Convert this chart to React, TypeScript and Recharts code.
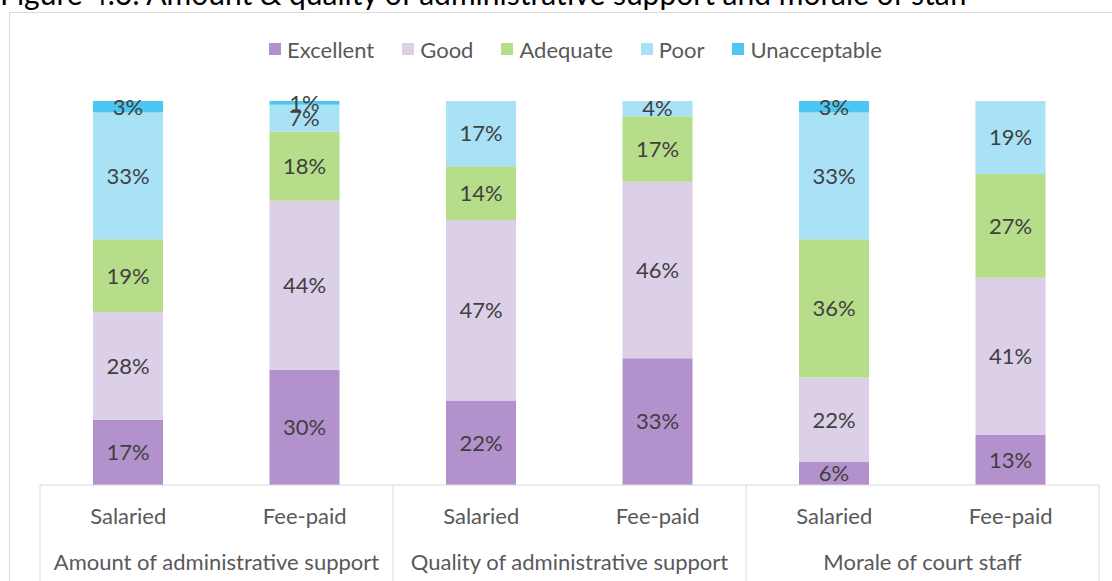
import { ComposedChart, Bar, XAxis, YAxis, Legend, LabelList } from "recharts";

const groups = [
  "Amount of administrative support",
  "Amount of administrative support",
  "Quality of administrative support",
  "Quality of administrative support",
  "Morale of court staff",
  "Morale of court staff",
];
const types = ["Salaried", "Fee-paid", "Salaried", "Fee-paid", "Salaried", "Fee-paid"];

const excellent = [17, 30, 22, 33, 6, 13];
const good = [28, 44, 47, 46, 22, 41];
const adequate = [19, 18, 14, 17, 36, 27];
const poor = [33, 7, 17, 4, 33, 19];
const unacceptable = [3, 1, 0, 0, 3, 0];

const series = [
  { key: "excellent", name: "Excellent", color: "#b391cc" },
  { key: "good", name: "Good", color: "#dccfe8" },
  { key: "adequate", name: "Adequate", color: "#b6dd89" },
  { key: "poor", name: "Poor", color: "#a9e2f7" },
  { key: "unacceptable", name: "Unacceptable", color: "#4dc7f2" },
];

const data = types.map((t, i) => ({
  type: t,
  group: groups[i],
  excellent: excellent[i],
  good: good[i],
  adequate: adequate[i],
  poor: poor[i],
  unacceptable: unacceptable[i],
}));

const W = 1112;
const H = 581;
const M = { top: 34, right: 13, bottom: 0, left: 40 };
const BAND = (W - M.left - M.right) / data.length;
const FONT = "Lato, 'DejaVu Sans', sans-serif";
const TEXT = "#595959";
const FS = 22;

function TypeTick(props: any) {
  const { x, y, payload, index } = props;
  const i = payload?.index ?? index;
  return (
    <g>
      {i % 2 === 0 && <line x1={x - BAND / 2} x2={x - BAND / 2} y1={y} y2={y + 200} stroke="#d9d9d9" />}
      {i === data.length - 1 && <line x1={x + BAND / 2} x2={x + BAND / 2} y1={y} y2={y + 200} stroke="#d9d9d9" />}
      <text x={x} y={y + 39} textAnchor="middle" fill={TEXT} fontSize={FS} fontFamily={FONT}>
        {payload.value}
      </text>
    </g>
  );
}

function GroupTick(props: any) {
  const { x, y, payload, index } = props;
  const i = payload?.index ?? index;
  if (i % 2 !== 0) return null;
  return (
    <text x={x + BAND / 2} y={y + 39} textAnchor="middle" fill={TEXT} fontSize={FS} fontFamily={FONT}>
      {payload.value}
    </text>
  );
}

function LegendRow() {
  return (
    <div style={{ height: 67, display: "flex", justifyContent: "center", alignItems: "flex-start", paddingLeft: 40 }}>
      {series.map((s) => (
        <div key={s.key} style={{ display: "flex", alignItems: "center", height: 30, marginRight: 28 }}>
          <span style={{ width: 12, height: 12, background: s.color, marginRight: 6, display: "inline-block" }} />
          <span style={{ fontFamily: FONT, fontSize: FS, color: TEXT }}>{s.name}</span>
        </div>
      ))}
    </div>
  );
}

export default function App() {
  return (
    <div style={{ position: "absolute", left: 0, top: 0, width: W, height: H, overflow: "hidden", background: "#fff" }}>
      <div
        style={{
          position: "absolute",
          left: 0,
          top: -22,
          fontFamily: FONT,
          fontSize: 30,
          lineHeight: "30px",
          color: "#000",
          whiteSpace: "nowrap",
        }}
      >
        Figure 4.6: Amount &amp; quality of administrative support and morale of staff
      </div>
      <div
        style={{
          position: "absolute",
          left: 9,
          top: 12,
          width: 1120,
          height: 620,
          border: "1px solid #d9d9d9",
          boxSizing: "border-box",
        }}
      />
      <div style={{ position: "absolute", left: 0, top: 0 }}>
        <ComposedChart width={W} height={H} data={data} margin={M}>
          <Legend verticalAlign="top" align="center" content={() => <LegendRow />} />
          <YAxis hide domain={[0, 100]} />
          <XAxis
            dataKey="type"
            height={46}
            axisLine={{ stroke: "#d9d9d9" }}
            tickLine={false}
            tickSize={0}
            tickMargin={0}
            tick={<TypeTick />}
            interval={0}
          />
          <XAxis
            xAxisId="group"
            dataKey="group"
            height={50}
            axisLine={false}
            tickLine={false}
            tickSize={0}
            tickMargin={0}
            tick={<GroupTick />}
            interval={0}
          />
          {series.map((s) => (
            <Bar key={s.key} dataKey={s.key} name={s.name} stackId="a" fill={s.color} barSize={70} isAnimationActive={false}>
              <LabelList
                dataKey={s.key}
                position="center"
                fill="#404040"
                fontSize={FS}
                fontFamily={FONT}
                formatter={(v: any) => (v ? `${v}%` : "")}
              />
            </Bar>
          ))}
        </ComposedChart>
      </div>
    </div>
  );
}
